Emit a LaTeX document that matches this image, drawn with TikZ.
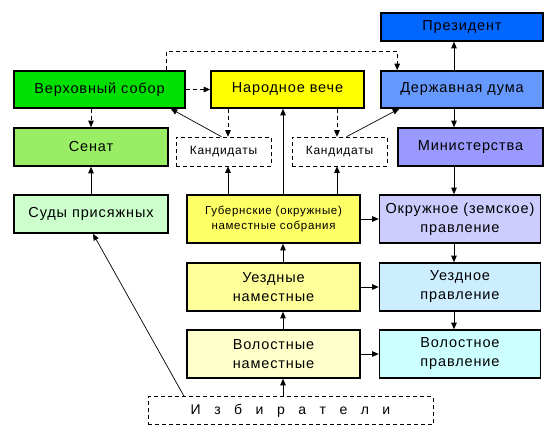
\documentclass[tikz,border=0pt]{standalone}
\usepackage{fontspec}
\setmainfont{Liberation Sans}[LetterSpace=6]
\usepackage{tikz}
\usetikzlibrary{arrows.meta}
\definecolor{presc}{HTML}{0066FF}
\definecolor{sobc}{HTML}{00E000}
\definecolor{vechec}{HTML}{FFFF00}
\definecolor{dumac}{HTML}{6699FF}
\definecolor{senc}{HTML}{99EE66}
\definecolor{minc}{HTML}{9999FF}
\definecolor{sudc}{HTML}{CCFFCC}
\definecolor{gubc}{HTML}{FFFF66}
\definecolor{okrc}{HTML}{CCCCFF}
\definecolor{uezc}{HTML}{FFFF99}
\definecolor{uezpc}{HTML}{CCEEFF}
\definecolor{volc}{HTML}{FFFFCC}
\definecolor{volpc}{HTML}{CCFFFF}

\tikzset{
  box/.style={draw, line width=1.6pt, inner sep=0pt, align=center,
    font=\fontsize{14.5}{19}\selectfont},
  dbox/.style={draw, line width=0.6pt, dash pattern=on 4pt off 3pt, inner sep=0pt,
    align=center, font=\fontsize{12}{14}\selectfont},
  arr/.style={-{Triangle[length=6.5pt,width=5.5pt]}, line width=0.7pt},
  darr/.style={arr, dash pattern=on 4pt off 3pt},
}

\begin{document}
\begin{tikzpicture}[x=1pt,y=-1pt]
  \useasboundingbox (0,0) rectangle (555,440);
  % top row
  \node[box,fill=presc,minimum width=162pt,minimum height=28pt] (pres) at (462,27) {Президент};
  \node[box,fill=sobc,minimum width=171pt,minimum height=37pt] (verkh) at (99.5,89.5) {Верховный собор};
  \node[box,fill=vechec,minimum width=153pt,minimum height=37pt] (veche) at (287.5,89.5) {Народное вече};
  \node[box,fill=dumac,minimum width=162pt,minimum height=37pt] (duma) at (462,89.5) {Державная дума};
  % second row
  \node[box,fill=senc,minimum width=154pt,minimum height=38pt] (senat) at (91,147) {Сенат};
  \node[dbox,minimum width=95pt,minimum height=29pt] (kandL) at (223.5,151.5) {Кандидаты};
  \node[dbox,minimum width=95pt,minimum height=29pt] (kandR) at (339.5,151.5) {Кандидаты};
  \node[box,fill=minc,minimum width=145pt,minimum height=38pt] (minist) at (470.5,147) {Министерства};
  % local bodies
  \node[box,fill=sudc,minimum width=154pt,minimum height=38pt] (sudy) at (91,214) {Суды присяжных};
  \node[box,fill=gubc,minimum width=173pt,minimum height=48pt,
    font=\fontsize{11.5}{15}\selectfont] (gub) at (273.5,219) {Губернские (окружные)\\наместные собрания};
  \node[box,fill=okrc,minimum width=161pt,minimum height=48pt] (okr) at (460,219) {Окружное (земское)\\правление};
  \node[box,fill=uezc,minimum width=173pt,minimum height=48pt] (uezd) at (273.5,287) {Уездные\\наместные};
  \node[box,fill=uezpc,minimum width=161pt,minimum height=48pt] (uezdpr) at (460,287) {Уездное\\правление};
  \node[box,fill=volc,minimum width=173pt,minimum height=48pt] (vol) at (273.5,354) {Волостные\\наместные};
  \node[box,fill=volpc,minimum width=161pt,minimum height=48pt] (volpr) at (460,354) {Волостное\\правление};
  \node[dbox,minimum width=285pt,minimum height=28pt,font=\fontsize{14}{16}\selectfont] (izb) at (290.5,410.5)
    {И\hspace{13.5pt}з\hspace{13.5pt}б\hspace{13.5pt}и\hspace{13.5pt}р\hspace{13.5pt}а\hspace{13.5pt}т\hspace{13.5pt}е\hspace{13.5pt}л\hspace{13.5pt}и};
  \coordinate (mid) at (283,0);
  \coordinate (rc) at (454,0);

  % dashed links from the sobor and the veche
  \draw[darr] (verkh.east) -- (veche.west);
  \draw[darr] ([xshift=-19pt]verkh.north east) -- ++(0,-19) -| ([xshift=17pt]duma.north west);
  \draw[darr] (verkh.south -| senat.north) -- (senat.north);
  \draw[darr] ([xshift=4.5pt]kandL.north |- veche.south) -- ([xshift=4.5pt]kandL.north);
  \draw[darr] ([xshift=-2.5pt]kandR.north |- veche.south) -- ([xshift=-2.5pt]kandR.north);
  % candidates go up
  \draw[arr] ([xshift=-2pt]kandL.north) -- ([xshift=-15pt]verkh.south east);
  \draw[arr] ([xshift=7pt]kandR.north) -- ([xshift=19pt]duma.south west);
  % assemblies
  \draw[arr] ([xshift=4.5pt]kandL.south |- gub.north) -- ([xshift=4.5pt]kandL.south);
  \draw[arr] (gub.north -| mid) -- (veche.south -| mid);
  \draw[arr] ([xshift=-2.5pt]kandR.south |- gub.north) -- ([xshift=-2.5pt]kandR.south);
  \draw[arr] (uezd.north -| mid) -- (gub.south -| mid);
  \draw[arr] (vol.north -| mid) -- (uezd.south -| mid);
  \draw[arr] (izb.north -| mid) -- (vol.south -| mid);
  \draw[arr] (gub.east) -- (okr.west);
  \draw[arr] (uezd.east) -- (uezdpr.west);
  \draw[arr] (vol.east) -- (volpr.west);
  % courts
  \draw[arr] ([xshift=-106.5pt]izb.north) -- ([xshift=2pt]sudy.south);
  \draw[arr] (sudy.north) -- (senat.south);
  % executive column
  \draw[arr] (duma.north -| rc) -- (pres.south -| rc);
  \draw[arr] (duma.south -| rc) -- (minist.north -| rc);
  \draw[arr] (minist.south -| rc) -- (okr.north -| rc);
  \draw[arr] (okr.south -| rc) -- (uezdpr.north -| rc);
  \draw[arr] (uezdpr.south -| rc) -- (volpr.north -| rc);
\end{tikzpicture}
\end{document}
